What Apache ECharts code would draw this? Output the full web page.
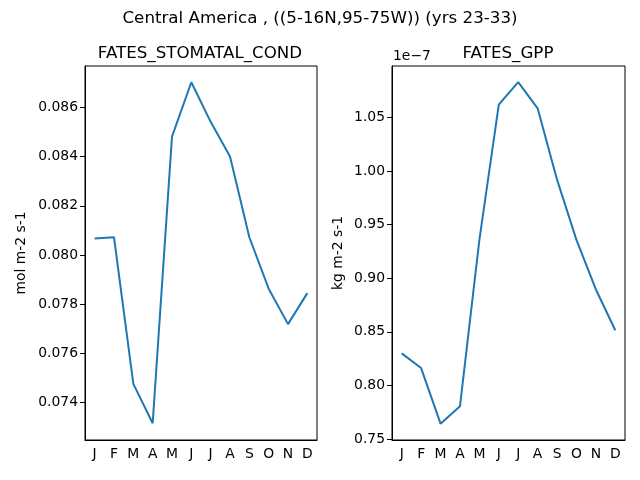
<!DOCTYPE html>
<html lang="en">
<head>
    <meta charset="UTF-8">
    <title>Central America</title>
    <script src="https://cdn.jsdelivr.net/npm/echarts@6/dist/echarts.min.js"></script>
</head>
<body style="margin:0">
<div id="chart" style="width: 640px; height: 480px;"></div>
<script>
    var months = ['J', 'F', 'M', 'A', 'M', 'J', 'J', 'A', 'S', 'O', 'N', 'D'];
    // mol m-2 s-1
    var stomatalCond = [0.08067, 0.08072, 0.07476, 0.07316, 0.08481, 0.08702,
        0.08541, 0.0840, 0.08072, 0.07863, 0.07719, 0.07845];
    // kg m-2 s-1, in units of 1e-7
    var gpp = [0.8299, 0.8162, 0.7643, 0.7805, 0.9357, 1.0618,
        1.0829, 1.0584, 0.9919, 0.9357, 0.8895, 0.8515];
    var condTicks = [0.074, 0.076, 0.078, 0.080, 0.082, 0.084, 0.086];
    var gppTicks = [0.75, 0.80, 0.85, 0.90, 0.95, 1.00, 1.05];

    var font = 'DejaVu Sans';
    var chart = echarts.init(document.getElementById('chart'));

    function xAxis(grid) {
        return {
            type: 'category',
            gridIndex: grid,
            data: months,
            boundaryGap: true,
            axisLine: {lineStyle: {color: '#000', width: 1}},
            axisTick: {alignWithLabel: true, length: 5, lineStyle: {color: '#000'}},
            axisLabel: {color: '#000', fontFamily: font, fontSize: 13.9, margin: 7}
        };
    }

    function yAxis(grid, name, min, max, ticks, fmt, gap) {
        return {
            type: 'value',
            gridIndex: grid,
            min: min,
            max: max,
            name: name,
            nameLocation: 'middle',
            nameGap: gap,
            nameTextStyle: {color: '#000', fontFamily: font, fontSize: 13.9},
            splitLine: {show: false},
            axisLine: {show: true, lineStyle: {color: '#000', width: 1}},
            axisTick: {show: true, length: 5, customValues: ticks, lineStyle: {color: '#000'}},
            axisLabel: {
                color: '#000', fontFamily: font, fontSize: 13.9, margin: 7,
                customValues: ticks,
                formatter: function (v) { return v.toFixed(fmt); }
            }
        };
    }

    chart.setOption({
        animation: false,
        backgroundColor: '#fff',
        title: [
            {text: 'Central America , ((5-16N,95-75W)) (yrs 23-33)', left: 315, top: 5, textAlign: 'center',
                textStyle: {fontFamily: font, fontSize: 16.7, fontWeight: 'normal', color: '#000'}},
            {text: 'FATES_STOMATAL_COND', left: 195, top: 40, textAlign: 'center',
                textStyle: {fontFamily: font, fontSize: 16.7, fontWeight: 'normal', color: '#000'}},
            {text: 'FATES_GPP', left: 503, top: 40, textAlign: 'center',
                textStyle: {fontFamily: font, fontSize: 16.7, fontWeight: 'normal', color: '#000'}}
        ],
        graphic: [{
            type: 'text', left: 393, top: 49,
            style: {text: '1e\u22127', font: '13.9px "DejaVu Sans"', fill: '#000'}
        }],
        grid: [
            {left: 85, right: 323, top: 66, bottom: 40, show: true, borderColor: '#000', borderWidth: 1},
            {left: 392, right: 15, top: 66, bottom: 40, show: true, borderColor: '#000', borderWidth: 1}
        ],
        xAxis: [xAxis(0), xAxis(1)],
        yAxis: [
            yAxis(0, 'mol m-2 s-1', 0.07248, 0.08768, condTicks, 3, 57),
            yAxis(1, 'kg m-2 s-1', 0.7491, 1.0979, gppTicks, 2, 47)
        ],
        series: [
            {type: 'line', xAxisIndex: 0, yAxisIndex: 0, data: stomatalCond, showSymbol: false,
                lineStyle: {color: '#1f77b4', width: 2}},
            {type: 'line', xAxisIndex: 1, yAxisIndex: 1, data: gpp, showSymbol: false,
                lineStyle: {color: '#1f77b4', width: 2}}
        ]
    });
</script>
</body>
</html>
